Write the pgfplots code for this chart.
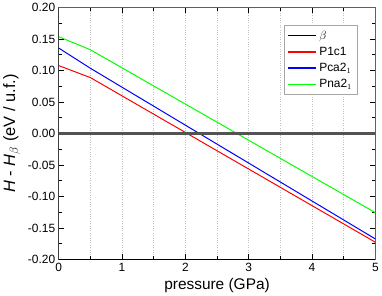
\documentclass[border=0pt]{standalone}
\usepackage{pgfplots}
\pgfplotsset{compat=1.18}
\usepackage{fontspec}
\setmainfont{Liberation Sans}
\begin{document}
\begin{tikzpicture}[x=1pt,y=1pt]
\begin{axis}[
  scale only axis,
  width=318pt, height=253pt,
  xmin=0, xmax=5, ymin=-0.20, ymax=0.20,
  xtick={0,1,2,3,4,5},
  minor xtick={0.5,1.5,2.5,3.5,4.5},
  ytick={-0.20,-0.15,-0.10,-0.05,0,0.05,0.10,0.15,0.20},
  minor ytick={-0.175,-0.125,-0.075,-0.025,0.025,0.075,0.125,0.175},
  yticklabel style={/pgf/number format/.cd,fixed,fixed zerofill,precision=2},
  /pgf/number format/assume math mode=true,
  tick align=inside,
  major tick length=5pt, minor tick length=3pt,
  tick style={black, line width=0.8pt},
  xmajorgrids, xminorgrids,
  grid style={dotted, gray!50, line width=0.6pt},
  axis line style={line width=1.1pt, gray!75!black},
  ticklabel style={font=\fontsize{12}{14}\selectfont},
  label style={font=\fontsize{15.5}{17}\selectfont},
  xlabel={pressure (GPa)},
  ylabel={\fontsize{16.5}{18}\selectfont\textit{H} - \textit{H}$_{\beta}$ (eV / u.f.)},
  xlabel style={yshift=0pt},
  ylabel style={yshift=1pt},
  legend style={at={(0.71,0.929)}, anchor=north west, draw=gray!70, line width=0.6pt,
    font=\fontsize{12}{14}\selectfont, inner sep=3pt, row sep=2.5pt, cells={anchor=west}},
  legend image code/.code={\draw[#1] (0pt,0pt) -- (29pt,0pt);},
  legend image post style={line width=1.6pt},
]
\addplot[black, line width=1.1pt] coordinates {(0,0) (5,0)};
\addlegendentry{$\beta$}
\addplot[red, line width=1pt] coordinates {(0,0.1078) (0.5,0.0888) (5,-0.1726)};
\addlegendentry{P1c1}
\addplot[blue, line width=1pt] coordinates {(0,0.1357) (0.5,0.1036) (5,-0.1674)};
\addlegendentry{Pca2$_1$}
\addplot[green, line width=1pt] coordinates {(0,0.1537) (0.5,0.1330) (5,-0.1257)};
\addlegendentry{Pna2$_1$}
\addplot[gray!65!black, line width=2.2pt, forget plot] coordinates {(0,0) (5,0)};
\draw[black, line width=1.1pt] (rel axis cs:0,1) -- (rel axis cs:0,0) -- (rel axis cs:1,0);
\end{axis}
\end{tikzpicture}
\end{document}
